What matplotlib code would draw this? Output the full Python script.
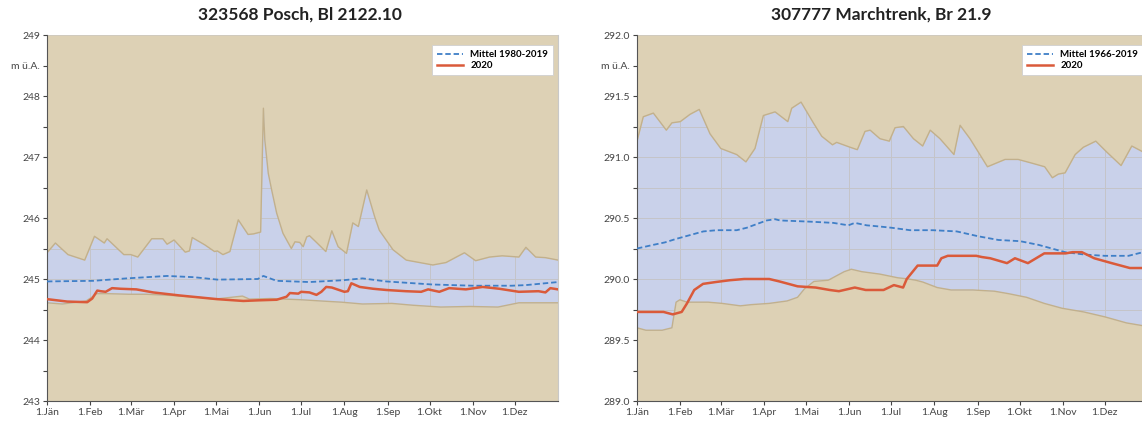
import numpy as np
import matplotlib
matplotlib.use("Agg")
import matplotlib.pyplot as plt

plt.rcParams["font.family"] = ["Lato", "DejaVu Sans"]

# day of year 2020 (leap year) at month starts
month_days = [0, 31, 60, 91, 121, 152, 182, 213, 244, 274, 305, 335]
month_labels = ["1.Jän", "1.Feb", "1.Mär", "1.Apr", "1.Mai", "1.Jun",
                "1.Jul", "1.Aug", "1.Sep", "1.Okt", "1.Nov", "1.Dez"]

# --- 323568 Posch ---
posch_max_days = [0, 6, 15, 27, 34, 41, 43, 55, 60, 65, 75, 83, 86, 91, 99, 102, 104, 113, 120, 122,
                  126, 131, 137, 144, 148, 153, 155, 156, 158.5, 161, 164.5, 169, 175, 177.6, 181, 183.5,
                  186, 188, 193, 199.7, 204, 208.5, 214.5, 219, 223, 229, 234.7, 238, 247.8, 257.3,
                  276.3, 285.8, 294, 299, 307, 317, 326, 338, 343, 350, 357, 366]
posch_max = [245.43, 245.59, 245.40, 245.31, 245.70, 245.59, 245.66, 245.40, 245.40, 245.36, 245.66,
             245.66, 245.57, 245.64, 245.44, 245.46, 245.68, 245.56, 245.45, 245.46, 245.40, 245.45,
             245.97, 245.73, 245.74, 245.77, 247.80, 247.28, 246.73, 246.45, 246.08, 245.75, 245.50,
             245.61, 245.60, 245.53, 245.69, 245.71, 245.60, 245.45, 245.79, 245.53, 245.42, 245.92,
             245.86, 246.46, 246.02, 245.80, 245.48, 245.31, 245.23, 245.27, 245.37, 245.43, 245.30,
             245.36, 245.38, 245.36, 245.52, 245.36, 245.35, 245.31]
posch_min_days = [0, 11, 28, 32, 35.6, 43, 58.5, 71, 89, 109, 120, 140, 145, 160, 182, 196, 211, 226,
                  247, 262, 282, 303, 323, 338, 366]
posch_min = [244.61, 244.59, 244.64, 244.70, 244.76, 244.76, 244.75, 244.75, 244.73, 244.70, 244.67,
             244.72, 244.67, 244.68, 244.66, 244.64, 244.62, 244.59, 244.60, 244.57, 244.54, 244.55,
             244.54, 244.61, 244.61]
posch_mean_days = [0, 33, 57, 86, 105, 122, 151, 155, 164.5, 188, 212, 226, 243, 276, 305, 333, 343, 366]
posch_mean = [244.96, 244.97, 245.01, 245.05, 245.03, 244.99, 245.00, 245.05, 244.97, 244.95, 244.98,
              245.01, 244.96, 244.91, 244.89, 244.89, 244.90, 244.95]
posch_2020_days = [0, 14.5, 28.8, 32.4, 36, 38.5, 42, 46.6, 52.6, 64, 76, 95, 121.7, 140.6, 151, 164.5,
                   171.6, 174, 180, 182, 188, 193, 196.5, 200, 204, 213, 215.5, 218, 224, 233.6, 243,
                   257, 268, 273, 281, 288, 300, 312, 324, 338, 352, 357, 360.5, 366]
posch_2020 = [244.67, 244.63, 244.62, 244.68, 244.81, 244.80, 244.79, 244.85, 244.84, 244.83, 244.78,
              244.73, 244.67, 244.64, 244.65, 244.66, 244.71, 244.77, 244.76, 244.79, 244.78, 244.74,
              244.79, 244.87, 244.86, 244.79, 244.80, 244.93, 244.87, 244.84, 244.82, 244.80, 244.79,
              244.83, 244.79, 244.85, 244.83, 244.87, 244.84, 244.79, 244.80, 244.78, 244.85, 244.83]

# --- 307777 Marchtrenk ---
march_max_days = [0, 4.5, 11.7, 21, 25, 31, 38, 44.6, 52.3, 60, 71.4, 78, 84.5, 90.5, 98.9, 108, 110.8,
                  117.5, 126.3, 132.3, 140, 143, 152.6, 157.8, 163.3, 167, 174, 180.7, 184.8, 190.8,
                  198, 204.6, 210, 217, 227, 231.4, 238.5, 244.5, 251, 263.6, 273, 282.7, 292, 297.5,
                  301.8, 306.6, 313.8, 319.7, 328.6, 336.5, 346.7, 354.4, 366]
march_max = [291.13, 291.33, 291.36, 291.22, 291.28, 291.29, 291.35, 291.39, 291.19, 291.07, 291.02,
             290.96, 291.07, 291.34, 291.37, 291.29, 291.40, 291.45, 291.28, 291.17, 291.10, 291.12,
             291.08, 291.06, 291.21, 291.22, 291.15, 291.13, 291.24, 291.25, 291.15, 291.09, 291.22,
             291.15, 291.02, 291.26, 291.15, 291.04, 290.92, 290.98, 290.98, 290.95, 290.92, 290.83,
             290.86, 290.87, 291.02, 291.08, 291.13, 291.04, 290.93, 291.09, 291.02]
march_min_days = [0, 6.4, 18, 25, 28, 30.7, 35.8, 51, 61, 74, 82, 94.7, 107.5, 115, 120, 126.7, 137,
                  148.4, 153.5, 161, 174, 186.8, 194.5, 199.6, 204.7, 215, 225, 240.5, 256, 266, 279,
                  291.7, 304.5, 320, 335, 350.6, 366]
march_min = [289.60, 289.58, 289.58, 289.60, 289.81, 289.83, 289.81, 289.81, 289.80, 289.78, 289.79,
             289.80, 289.82, 289.85, 289.92, 289.98, 289.99, 290.06, 290.08, 290.06, 290.04, 290.01,
             290.00, 289.99, 289.975, 289.93, 289.91, 289.91, 289.90, 289.88, 289.85, 289.80, 289.76,
             289.73, 289.69, 289.64, 289.61]
march_mean_days = [0, 11.7, 20, 28.4, 38, 47.5, 57, 71.4, 78.6, 85.7, 92.9, 98.9, 102.4, 124, 140.6,
                   151.4, 156, 164.5, 174, 182.4, 195.6, 212, 229, 244.5, 258.8, 274.4, 287.5, 306.6,
                   320.9, 335, 352, 366]
march_mean = [290.25, 290.28, 290.30, 290.33, 290.36, 290.39, 290.40, 290.40, 290.42, 290.45, 290.48,
              290.49, 290.48, 290.47, 290.46, 290.44, 290.46, 290.44, 290.43, 290.42, 290.40, 290.40,
              290.39, 290.35, 290.32, 290.31, 290.28, 290.22, 290.20, 290.19, 290.19, 290.23]
march_2020_days = [0, 19, 25.6, 32, 35.8, 41, 47.3, 56.3, 66.5, 76.8, 94.7, 102, 115, 128, 138, 144.6,
                   156, 163.8, 176.6, 184, 190.6, 193.2, 201, 215, 218, 222.6, 243, 247, 253, 265,
                   270.7, 280, 291.7, 307, 312, 318.6, 327.5, 340, 353, 366]
march_2020 = [289.73, 289.73, 289.71, 289.73, 289.80, 289.91, 289.96, 289.975, 289.99, 290.0, 290.0,
              289.98, 289.94, 289.93, 289.91, 289.90, 289.93, 289.91, 289.91, 289.95, 289.93, 290.0,
              290.11, 290.11, 290.17, 290.19, 290.19, 290.18, 290.17, 290.13, 290.17, 290.13, 290.21,
              290.21, 290.22, 290.22, 290.17, 290.13, 290.09, 290.09]

TAN = "#ddd1b5"
BLUE = "#c9d1ea"
EDGE = "#c2b08c"
RED = "#da5a3a"
DASH = "#3f7fc7"
GRID = "#c4c4c8"


def draw_panel(ax, title, title_x, ylim, major, minor_step, unit_pos, ylabels,
               max_d, max_v, min_d, min_v, mean_d, mean_v, y_d, y_v, mean_label):
    lo, hi = ylim
    ax.set_facecolor(BLUE)
    ax.set_axisbelow(True)
    ax.set_xlim(0, 366)
    ax.set_ylim(lo, hi)

    ax.fill_between(max_d, max_v, hi, color=TAN, lw=0, zorder=1)
    ax.fill_between(min_d, lo, min_v, color=TAN, lw=0, zorder=1)
    ax.plot(max_d, max_v, color=EDGE, lw=1.0, zorder=1.5)
    ax.plot(min_d, min_v, color=EDGE, lw=1.0, zorder=1.5)

    ax.plot(mean_d, mean_v, color=DASH, lw=1.3, ls=(0, (3, 1.6)), zorder=3, label=mean_label)
    ax.plot(y_d, y_v, color=RED, lw=1.8, zorder=4, label="2020")

    ax.set_xticks(month_days)
    ax.set_xticklabels(month_labels)
    ax.set_yticks(major + [unit_pos])
    ax.set_yticklabels(ylabels + ["m ü.A."])
    ax.set_yticks(np.arange(lo, hi + 1e-9, minor_step), minor=True)
    ax.tick_params(axis="both", labelsize=7.5, colors="#444444", length=3, width=0.8)
    ax.tick_params(axis="y", which="minor", length=3, width=0.8, colors="#444444")
    ax.tick_params(axis="y", pad=2)
    ax.tick_params(axis="x", pad=2)

    ax.grid(True, which="both", axis="y", color=GRID, lw=0.7)
    ax.grid(True, which="major", axis="x", color=GRID, lw=0.7)

    ax.spines["top"].set_visible(False)
    ax.spines["right"].set_color("#c8c8c8")
    ax.spines["left"].set_color("#555555")
    ax.spines["bottom"].set_color("#555555")

    leg = ax.legend(loc="upper right", frameon=True, fancybox=False,
                    borderpad=0.5, handlelength=2.6, labelspacing=0.2,
                    bbox_to_anchor=(1.0, 0.985), prop={"weight": "bold", "size": 7})
    leg.get_frame().set_edgecolor("#d0d0d0")
    leg.get_frame().set_linewidth(0.6)
    leg.get_frame().set_facecolor("white")
    leg.get_frame().set_alpha(1.0)

    fig.text(title_x / 1142, 1 - 15 / 423, title, ha="center", va="center",
             fontsize=12.5, fontweight="bold", color="#222222")


fig = plt.figure(figsize=(11.42, 4.23), dpi=100)
ax1 = fig.add_axes([47 / 1142, 22 / 423, 511 / 1142, 366 / 423])
ax2 = fig.add_axes([637 / 1142, 22 / 423, 511 / 1142, 366 / 423])

draw_panel(ax1, "323568 Posch, Bl 2122.10", 300, (243, 249), [243, 244, 245, 246, 247, 248, 249],
           0.5, 248.5, ["243", "244", "245", "246", "247", "248", "249"],
           posch_max_days, posch_max, posch_min_days, posch_min,
           posch_mean_days, posch_mean, posch_2020_days, posch_2020, "Mittel 1980-2019")
draw_panel(ax2, "307777 Marchtrenk, Br 21.9", 881, (289.0, 292.0),
           [289.0, 289.5, 290.0, 290.5, 291.0, 291.5, 292.0],
           0.25, 291.75, ["289.0", "289.5", "290.0", "290.5", "291.0", "291.5", "292.0"],
           march_max_days, march_max, march_min_days, march_min,
           march_mean_days, march_mean, march_2020_days, march_2020, "Mittel 1966-2019")

fig.savefig("out.png", dpi=100)
